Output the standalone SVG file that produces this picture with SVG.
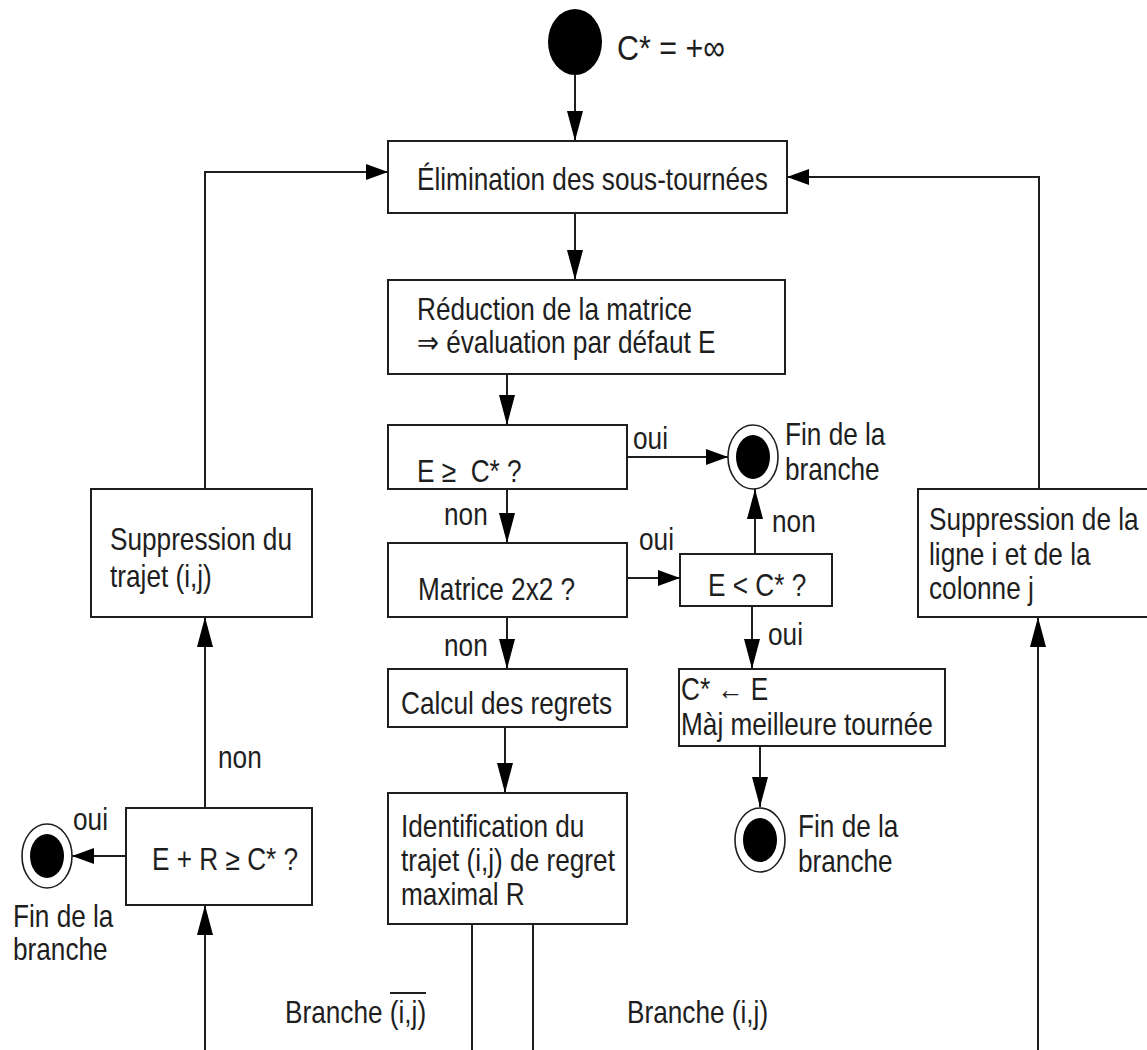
<svg xmlns="http://www.w3.org/2000/svg" width="1147" height="1050" viewBox="0 0 1147 1050">
  <style>
    .box { fill: #ffffff; stroke: #1e1e1e; stroke-width: 2; }
    .wire { fill: none; stroke: #1e1e1e; stroke-width: 2; }
    .ring { fill: #ffffff; stroke: #1e1e1e; stroke-width: 1.6; }
    .dot { fill: #000000; }
    .t { font-family: "Liberation Sans", Arial, sans-serif; font-size: 31px; fill: #1e1e1e; }
    .big { font-size: 36px; }
  </style>
  <defs>
    <!-- filled heads: tall for vertical runs, short for horizontal runs -->
    <marker id="av" markerUnits="userSpaceOnUse" markerWidth="30" markerHeight="16" refX="30" refY="8" orient="auto">
      <path d="M0,0 L30,8 L0,16 Z" fill="#000000"/>
    </marker>
    <marker id="ah" markerUnits="userSpaceOnUse" markerWidth="22" markerHeight="16" refX="22" refY="8" orient="auto">
      <path d="M0,0 L22,8 L0,16 Z" fill="#000000"/>
    </marker>
  </defs>

  <rect width="1147" height="1050" fill="#ffffff"/>

  <!-- connectors -->
  <g id="connectors">
    <path class="wire" d="M575,75 V141" marker-end="url(#av)"/>
    <path class="wire" d="M575,213 V280" marker-end="url(#av)"/>
    <path class="wire" d="M507,374 V425" marker-end="url(#av)"/>
    <path class="wire" d="M627,457 H728" marker-end="url(#ah)"/>
    <path class="wire" d="M507,489 V543" marker-end="url(#av)"/>
    <path class="wire" d="M627,578 H680" marker-end="url(#ah)"/>
    <path class="wire" d="M755,554 V489" marker-end="url(#av)"/>
    <path class="wire" d="M752,606 V669" marker-end="url(#av)"/>
    <path class="wire" d="M760,746 V807" marker-end="url(#av)"/>
    <path class="wire" d="M507,617 V669" marker-end="url(#av)"/>
    <path class="wire" d="M505,727 V793" marker-end="url(#av)"/>
    <path class="wire" d="M205,1050 V905" marker-end="url(#av)"/>
    <path class="wire" d="M126,856 H72" marker-end="url(#ah)"/>
    <path class="wire" d="M205,808 V617" marker-end="url(#av)"/>
    <path class="wire" d="M205,489 V172 H388" marker-end="url(#ah)"/>
    <path class="wire" d="M1038,1050 V617" marker-end="url(#av)"/>
    <path class="wire" d="M1039,489 V177 H787" marker-end="url(#ah)"/>
    <path class="wire" d="M472,924 V1050"/>
    <path class="wire" d="M533,924 V1050"/>
    <text class="t" transform="translate(633 449) scale(.845 1)">oui</text>
    <text class="t" transform="translate(444 525) scale(.845 1)">non</text>
    <text class="t" transform="translate(639 550) scale(.845 1)">oui</text>
    <text class="t" transform="translate(772 532) scale(.845 1)">non</text>
    <text class="t" transform="translate(768 645) scale(.845 1)">oui</text>
    <text class="t" transform="translate(444 656) scale(.845 1)">non</text>
    <text class="t" transform="translate(73 830) scale(.845 1)">oui</text>
    <text class="t" transform="translate(218 768) scale(.845 1)">non</text>
    <text class="t" transform="translate(285 1023) scale(.845 1)">Branche (i,j)</text>
    <line x1="390" y1="993" x2="426" y2="993" stroke="#1e1e1e" stroke-width="2"/>
    <text class="t" transform="translate(627 1023) scale(.845 1)">Branche (i,j)</text>
  </g>

  <g id="start">
    <ellipse class="dot" cx="575" cy="42" rx="27" ry="33"/>
    <text class="t big" transform="translate(617 60) scale(.845 1)">C* = +∞</text>
  </g>

  <g id="elimination">
    <rect class="box" x="388" y="141" width="399" height="72"/>
    <text class="t" transform="translate(417 190) scale(.845 1)">Élimination des sous-tournées</text>
  </g>

  <g id="reduction">
    <rect class="box" x="388" y="280" width="397" height="94"/>
    <text class="t" transform="translate(417 320) scale(.845 1)"><tspan x="0" y="0">Réduction de la matrice</tspan><tspan x="0" y="33">⇒ évaluation par défaut E</tspan></text>
  </g>

  <g id="test-bound">
    <rect class="box" x="388" y="425" width="239" height="64"/>
    <text class="t" xml:space="preserve" transform="translate(417 482) scale(.845 1)">E ≥  C* ?</text>
  </g>

  <g id="end-1">
    <ellipse class="ring" cx="753" cy="457" rx="25" ry="32"/>
    <ellipse class="dot" cx="753" cy="457" rx="17" ry="22"/>
    <text class="t" transform="translate(785 445) scale(.845 1)"><tspan x="0" y="0">Fin de la</tspan><tspan x="0" y="35">branche</tspan></text>
  </g>

  <g id="test-size">
    <rect class="box" x="388" y="543" width="239" height="74"/>
    <text class="t" transform="translate(418 600) scale(.845 1)">Matrice 2x2 ?</text>
  </g>

  <g id="test-better">
    <rect class="box" x="680" y="554" width="152" height="52"/>
    <text class="t" transform="translate(708 596) scale(.845 1)">E &lt; C* ?</text>
  </g>

  <g id="update">
    <rect class="box" x="679" y="669" width="266" height="77"/>
    <text class="t" transform="translate(681 700) scale(.845 1)"><tspan x="0" y="0">C* ← E</tspan><tspan x="0" y="35">Màj meilleure tournée</tspan></text>
  </g>

  <g id="end-2">
    <ellipse class="ring" cx="760" cy="840" rx="25" ry="32"/>
    <ellipse class="dot" cx="760" cy="840" rx="17" ry="22"/>
    <text class="t" transform="translate(798 837) scale(.845 1)"><tspan x="0" y="0">Fin de la</tspan><tspan x="0" y="35">branche</tspan></text>
  </g>

  <g id="regrets">
    <rect class="box" x="388" y="669" width="239" height="58"/>
    <text class="t" transform="translate(401 714) scale(.845 1)">Calcul des regrets</text>
  </g>

  <g id="identification">
    <rect class="box" x="388" y="793" width="239" height="131"/>
    <text class="t" transform="translate(401 837) scale(.845 1)"><tspan x="0" y="0">Identification du</tspan><tspan x="0" y="34">trajet (i,j) de regret</tspan><tspan x="0" y="68">maximal R</tspan></text>
  </g>

  <g id="test-regret">
    <rect class="box" x="126" y="808" width="186" height="97"/>
    <text class="t" transform="translate(152 870) scale(.845 1)">E + R ≥ C* ?</text>
  </g>

  <g id="end-3">
    <ellipse class="ring" cx="47" cy="856" rx="25" ry="32"/>
    <ellipse class="dot" cx="47" cy="856" rx="17" ry="22"/>
    <text class="t" transform="translate(13 927) scale(.845 1)"><tspan x="0" y="0">Fin de la</tspan><tspan x="0" y="33">branche</tspan></text>
  </g>

  <g id="remove-arc">
    <rect class="box" x="91" y="489" width="221" height="128"/>
    <text class="t" transform="translate(110 550) scale(.845 1)"><tspan x="0" y="0">Suppression du</tspan><tspan x="0" y="37">trajet (i,j)</tspan></text>
  </g>

  <g id="remove-row-col">
    <rect class="box" x="918" y="489" width="240" height="128"/>
    <text class="t" transform="translate(929 530) scale(.845 1)"><tspan x="0" y="0">Suppression de la</tspan><tspan x="0" y="35">ligne i et de la</tspan><tspan x="0" y="69">colonne j</tspan></text>
  </g>
</svg>
